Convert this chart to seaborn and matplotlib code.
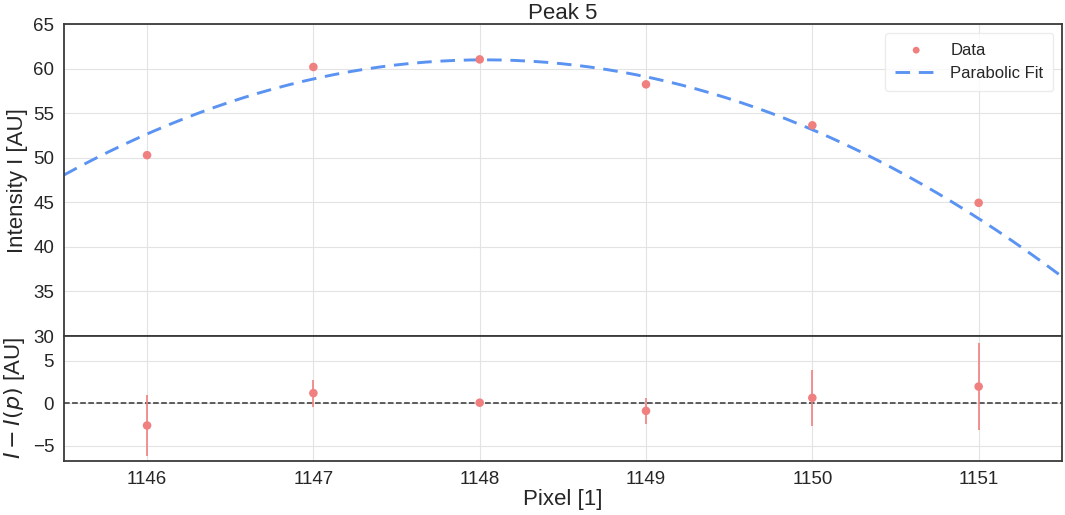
import numpy as np
import pandas as pd
import matplotlib
matplotlib.use("Agg")
import matplotlib.pyplot as plt
import seaborn as sns

# Data
pixels = [1146, 1147, 1148, 1149, 1150, 1151]
intensity = [50.3, 60.2, 61.05, 58.25, 53.65, 44.95]
residuals = [-2.63, 1.18, 0.05, -0.91, 0.62, 1.95]
residual_err = [3.55, 1.6, 0.15, 1.5, 3.3, 5.15]

# Parabolic fit parameters: I(p) = c - a (p - p0)^2
fit_a = 2.02
fit_p0 = 1148.03
fit_c = 61.0

sns.set_style("whitegrid")
plt.rcParams["font.family"] = ["Liberation Sans", "DejaVu Sans"]
plt.rcParams["axes.edgecolor"] = "#3a3a3a"
plt.rcParams["axes.linewidth"] = 1.3
plt.rcParams["grid.color"] = "#e3e3e3"

fig = plt.figure(figsize=(10.65, 5.15), dpi=100)
gs = fig.add_gridspec(2, 1, height_ratios=[312, 125], hspace=0,
                      left=0.060, right=0.997, top=0.953, bottom=0.105)
ax1 = fig.add_subplot(gs[0])
ax2 = fig.add_subplot(gs[1], sharex=ax1)

point_color = "#f08080"
fit_color = "#5b93f2"

df = pd.DataFrame({"pixel": pixels, "intensity": intensity, "res": residuals})
p_fit = np.linspace(1145.5, 1151.5, 200)
fit_df = pd.DataFrame({"pixel": p_fit, "fit": fit_c - fit_a * (p_fit - fit_p0) ** 2})

sns.scatterplot(data=df, x="pixel", y="intensity", ax=ax1, color=point_color,
                s=38, edgecolor="none", label="Data", zorder=3)
sns.lineplot(data=fit_df, x="pixel", y="fit", ax=ax1, color=fit_color,
             linestyle=(0, (5, 3)), linewidth=2.1, label="Parabolic Fit")

ax1.set_xlim(1145.5, 1151.5)
ax1.set_ylim(30, 65)
ax1.set_yticks(np.arange(30, 66, 5))
ax1.set_title("Peak 5", fontsize=16, pad=3)
ax1.set_ylabel("Intensity I [AU]", fontsize=16)
ax1.set_xlabel("")
ax1.tick_params(axis="x", labelbottom=False)
ax1.tick_params(axis="y", labelsize=13.5)
leg = ax1.legend(loc="upper right", fontsize=12, frameon=True, borderpad=0.6,
                 handlelength=2.5, labelspacing=0.5, markerscale=0.8)
leg.get_frame().set_edgecolor("#e8e8e8")

ax2.axhline(0, color="#333333", linestyle="--", linewidth=1.1, zorder=1)
ax2.errorbar(pixels, residuals, yerr=residual_err, fmt="none",
             ecolor=point_color, elinewidth=1.2, zorder=2)
sns.scatterplot(data=df, x="pixel", y="res", ax=ax2, color=point_color,
                s=38, edgecolor="none", zorder=3)
ax2.set_ylim(-6.8, 7.9)
ax2.set_yticks([-5, 0, 5])
ax2.set_xticks(pixels)
ax2.set_xticklabels([str(p) for p in pixels])
ax2.set_xlabel("Pixel [1]", fontsize=16, labelpad=1)
ax2.set_ylabel(r"$I - I(p)$ [AU]", fontsize=16)
ax2.tick_params(axis="both", labelsize=13.5)

for ax in (ax1, ax2):
    for s in ax.spines.values():
        s.set_visible(True)

fig.savefig("out.png", dpi=100)
